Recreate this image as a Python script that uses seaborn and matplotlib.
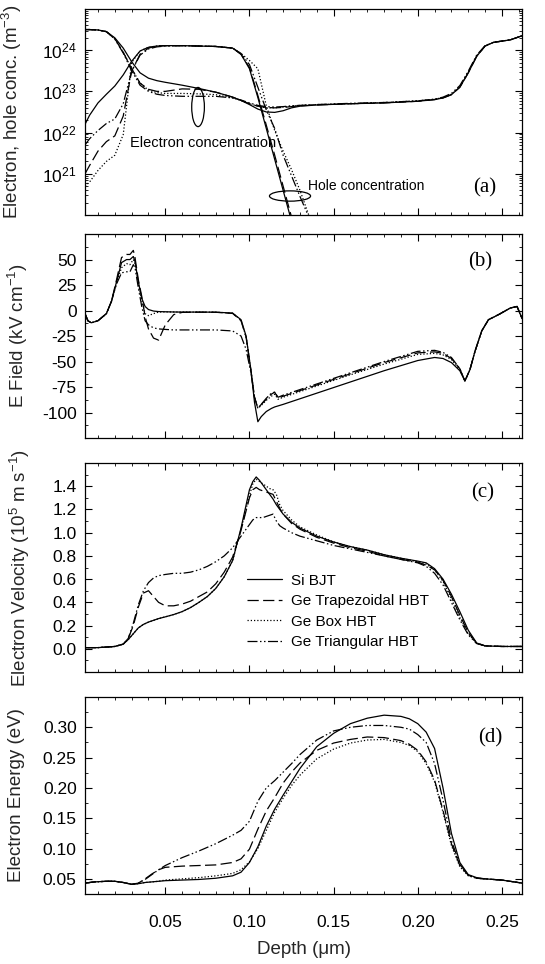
import numpy as np
import seaborn as sns
import matplotlib.pyplot as plt
from matplotlib.patches import Ellipse
from matplotlib.ticker import MultipleLocator, LogLocator, NullFormatter, FormatStrFormatter

sns.set_style('ticks')
plt.rcParams['font.family'] = ['Liberation Sans', 'DejaVu Sans']
plt.rcParams.update({
    'mathtext.default': 'regular',
    'axes.unicode_minus': False,
    'axes.edgecolor': 'black',
    'axes.linewidth': 0.9,
    'text.color': 'black',
    'xtick.color': 'black',
    'ytick.color': 'black',
    'xtick.direction': 'in',
    'ytick.direction': 'in',
    'xtick.top': True,
    'ytick.right': True,
    'xtick.major.size': 5,
    'ytick.major.size': 5,
    'xtick.minor.size': 2.5,
    'ytick.minor.size': 2.5,
    'xtick.major.width': 0.8,
    'ytick.major.width': 0.8,
    'xtick.labelsize': 12.5,
    'ytick.labelsize': 12.5,
})

devices = ['Si BJT', 'Ge Trapezoidal HBT', 'Ge Box HBT', 'Ge Triangular HBT']
linestyles = ['-', (0, (9, 3.5)), (0, (1, 1.6)), (0, (8, 2, 1.2, 2, 1.2, 2))]

# ---- (a) carrier concentrations, log10 of m^-3 ----
depth_a = [0.0023, 0.005, 0.01, 0.015, 0.02, 0.025, 0.03, 0.035, 0.04, 0.045,
           0.05, 0.06, 0.07, 0.08, 0.09, 0.095, 0.10, 0.105, 0.11, 0.115,
           0.12, 0.125, 0.13, 0.14, 0.16, 0.18, 0.20, 0.21, 0.215, 0.22,
           0.225, 0.23, 0.235, 0.24, 0.245, 0.25, 0.255, 0.262]
elec_si = [24.50, 24.50, 24.49, 24.45, 24.30, 24.05, 23.72, 23.45, 23.32, 23.26,
           23.22, 23.15, 23.07, 22.98, 22.86, 22.78, 22.68, 22.57, 22.50, 22.49,
           22.53, 22.60, 22.64, 22.67, 22.70, 22.72, 22.76, 22.80, 22.84, 22.92,
           23.10, 23.45, 23.85, 24.10, 24.19, 24.22, 24.25, 24.35]
elec_trap = [24.50, 24.50, 24.49, 24.45, 24.28, 23.95, 23.55, 23.20, 23.05, 23.00,
             23.00, 23.06, 23.05, 22.98, 22.86, 22.78, 22.70, 22.64, 22.61, 22.60,
             22.61, 22.63, 22.65, 22.67, 22.70, 22.72, 22.76, 22.80, 22.84, 22.92,
             23.10, 23.45, 23.85, 24.10, 24.19, 24.22, 24.25, 24.35]
elec_box = [24.50, 24.50, 24.49, 24.45, 24.28, 23.95, 23.55, 23.20, 23.03, 22.97,
            22.95, 22.95, 22.94, 22.92, 22.84, 22.78, 22.70, 22.64, 22.60, 22.60,
            22.62, 22.64, 22.66, 22.68, 22.70, 22.73, 22.77, 22.81, 22.85, 22.93,
            23.11, 23.46, 23.86, 24.10, 24.19, 24.22, 24.25, 24.35]
elec_tri = [24.50, 24.50, 24.49, 24.45, 24.27, 23.93, 23.50, 23.15, 23.00, 22.93,
            22.90, 22.88, 22.88, 22.88, 22.84, 22.79, 22.72, 22.66, 22.63, 22.62,
            22.63, 22.65, 22.66, 22.68, 22.71, 22.73, 22.77, 22.81, 22.86, 22.95,
            23.14, 23.49, 23.88, 24.11, 24.19, 24.22, 24.25, 24.35]
# holes share the first 24 depth points
hole_si = [22.20, 22.42, 22.72, 22.93, 23.13, 23.40, 23.73, 23.98, 24.07, 24.10,
           24.11, 24.11, 24.10, 24.09, 24.05, 23.90, 23.55, 22.85, 22.10, 21.35,
           20.60, 19.85, 19.10, 17.60]
hole_trap = [21.00, 21.20, 21.55, 21.78, 21.92, 22.40, 23.49, 23.90, 24.05, 24.10,
             24.11, 24.11, 24.10, 24.09, 24.05, 23.90, 23.58, 22.90, 22.18, 21.45,
             20.70, 19.95, 19.20, 17.70]
hole_box = [20.70, 20.80, 21.08, 21.30, 21.45, 21.95, 23.70, 23.98, 24.07, 24.10,
            24.11, 24.11, 24.10, 24.09, 24.05, 23.92, 23.75, 23.55, 22.65, 22.05,
            21.55, 21.10, 20.60, 19.45]
hole_tri = [21.70, 21.85, 22.05, 22.22, 22.33, 22.70, 23.49, 23.88, 24.03, 24.08,
            24.10, 24.11, 24.10, 24.09, 24.05, 23.92, 23.65, 23.10, 22.55, 22.10,
            21.45, 20.95, 20.45, 19.50]

# ---- (b) electric field, kV/cm ----
depth_b = [0.0023, 0.004, 0.006, 0.01, 0.015, 0.018, 0.021, 0.024, 0.027, 0.029,
           0.031, 0.032, 0.034, 0.036, 0.038, 0.04, 0.043, 0.046, 0.05, 0.055,
           0.06, 0.07, 0.08, 0.09, 0.095, 0.098, 0.101, 0.103, 0.105, 0.107,
           0.11, 0.113, 0.115, 0.117, 0.12, 0.14, 0.16, 0.18, 0.20, 0.21,
           0.215, 0.22, 0.225, 0.228, 0.231, 0.234, 0.238, 0.242, 0.248, 0.255,
           0.259, 0.262]
field_si = [-3, -10, -12, -10, -3, 9, 28, 47, 50, 50,
            53, 48, 28, 12, 4, 1, -0.5, -1, -1.2, -1.4,
            -1.5, -1.5, -1.6, -2.5, -9, -25, -60, -90, -109, -104,
            -99, -96, -94.5, -93.5, -92, -81, -70, -59, -49, -46,
            -47, -51, -59, -69, -58, -40, -20, -9, -4, 2.5,
            4, -8]
field_trap = [-3, -10, -12, -10, -3, 9, 30, 52, 55, 55,
              59, 52, 30, 14, -6, -18, -27, -29, -14, -4,
              -1.8, -1.6, -1.7, -2.8, -10, -26, -60, -85, -96, -92,
              -87, -82, -80, -86, -84, -73, -62, -51, -41.5, -40.5,
              -42, -47, -57, -69, -58, -40, -20, -9, -4, 2.5,
              4, -8]
field_box = [-3, -10, -12, -10, -3, 9, 27, 42, 46, 45,
             50, 46, 26, 10, -3, -5, -3, -1.5, -1.3, -1.4,
             -1.5, -1.5, -1.6, -2.6, -9.5, -26, -60, -85, -96, -93,
             -88, -84, -82, -87, -85, -74, -63, -52.5, -43, -42,
             -43.5, -48, -58, -69, -58, -40, -20, -9, -4, 2.5,
             4, -8]
field_tri = [-3, -10, -12, -10, -3, 9, 26, 37, 38, 38,
             45, 42, 22, 4, -10, -14, -17, -18, -18.5, -19,
             -19, -19, -19, -20, -25, -38, -62, -85, -96, -92,
             -86, -81, -80, -85, -83, -72, -61, -50, -40, -39,
             -41, -46, -57, -69, -58, -40, -20, -9, -4, 2.5,
             4, -8]

# ---- (c) electron velocity, 1e5 m/s ----
depth_c = [0.0023, 0.01, 0.02, 0.025, 0.028, 0.031, 0.034, 0.037, 0.04, 0.043,
           0.046, 0.05, 0.055, 0.06, 0.065, 0.07, 0.075, 0.08, 0.085, 0.09,
           0.095, 0.10, 0.102, 0.104, 0.106, 0.108, 0.11, 0.112, 0.114, 0.116,
           0.118, 0.12, 0.125, 0.13, 0.14, 0.15, 0.16, 0.17, 0.18, 0.19,
           0.20, 0.205, 0.21, 0.215, 0.22, 0.225, 0.23, 0.235, 0.24, 0.25,
           0.262]
vel_si = [0.01, 0.01, 0.02, 0.04, 0.08, 0.13, 0.18, 0.21, 0.23, 0.245,
          0.26, 0.275, 0.295, 0.32, 0.355, 0.40, 0.45, 0.52, 0.62, 0.76,
          1.04, 1.37, 1.44, 1.48, 1.45, 1.41, 1.37, 1.33, 1.29, 1.24,
          1.20, 1.16, 1.09, 1.04, 0.97, 0.92, 0.88, 0.85, 0.81, 0.78,
          0.755, 0.74, 0.69, 0.60, 0.47, 0.32, 0.16, 0.05, 0.025, 0.02,
          0.02]
vel_trap = [0.01, 0.01, 0.02, 0.04, 0.09, 0.20, 0.36, 0.48, 0.50, 0.45,
            0.40, 0.37, 0.37, 0.385, 0.41, 0.45, 0.49, 0.56, 0.66, 0.79,
            1.02, 1.30, 1.37, 1.39, 1.37, 1.36, 1.35, 1.34, 1.33, 1.27,
            1.21, 1.16, 1.08, 1.03, 0.96, 0.91, 0.87, 0.84, 0.80, 0.77,
            0.745, 0.72, 0.68, 0.59, 0.45, 0.29, 0.14, 0.05, 0.025, 0.02,
            0.02]
vel_box = [0.01, 0.01, 0.02, 0.04, 0.08, 0.13, 0.18, 0.21, 0.23, 0.245,
           0.26, 0.275, 0.295, 0.32, 0.355, 0.40, 0.45, 0.52, 0.62, 0.76,
           1.03, 1.32, 1.42, 1.46, 1.44, 1.42, 1.40, 1.38, 1.37, 1.33,
           1.24, 1.19, 1.11, 1.05, 0.98, 0.92, 0.88, 0.85, 0.81, 0.78,
           0.75, 0.73, 0.68, 0.58, 0.43, 0.27, 0.13, 0.045, 0.025, 0.02,
           0.02]
vel_tri = [0.01, 0.01, 0.02, 0.04, 0.09, 0.22, 0.38, 0.50, 0.57, 0.61,
           0.63, 0.64, 0.65, 0.65, 0.66, 0.68, 0.71, 0.75, 0.80, 0.87,
           0.97, 1.07, 1.11, 1.13, 1.13, 1.13, 1.14, 1.15, 1.16, 1.10,
           1.06, 1.04, 1.00, 0.97, 0.93, 0.89, 0.86, 0.83, 0.80, 0.77,
           0.74, 0.71, 0.65, 0.55, 0.40, 0.25, 0.12, 0.045, 0.025, 0.02,
           0.02]

# ---- (d) electron energy, eV ----
depth_d = [0.0023, 0.008, 0.015, 0.02, 0.025, 0.03, 0.034, 0.038, 0.042, 0.046,
           0.05, 0.06, 0.07, 0.08, 0.09, 0.095, 0.10, 0.105, 0.11, 0.115,
           0.12, 0.125, 0.13, 0.14, 0.15, 0.16, 0.17, 0.18, 0.19, 0.195,
           0.20, 0.205, 0.21, 0.215, 0.22, 0.225, 0.23, 0.235, 0.24, 0.25,
           0.262]
en_si = [0.043, 0.045, 0.046, 0.046, 0.044, 0.041, 0.042, 0.044, 0.045, 0.046,
         0.047, 0.048, 0.049, 0.051, 0.055, 0.061, 0.077, 0.103, 0.137, 0.165,
         0.188, 0.210, 0.232, 0.268, 0.290, 0.306, 0.315, 0.320, 0.318, 0.314,
         0.306, 0.292, 0.265, 0.200, 0.125, 0.077, 0.057, 0.052, 0.050, 0.048,
         0.043]
en_trap = [0.043, 0.045, 0.046, 0.046, 0.044, 0.041, 0.043, 0.050, 0.058, 0.065,
           0.069, 0.071, 0.072, 0.073, 0.077, 0.083, 0.099, 0.132, 0.162, 0.184,
           0.208, 0.226, 0.241, 0.262, 0.274, 0.280, 0.284, 0.283, 0.278, 0.272,
           0.262, 0.243, 0.213, 0.163, 0.108, 0.072, 0.056, 0.051, 0.050, 0.048,
           0.043]
en_box = [0.043, 0.045, 0.046, 0.046, 0.044, 0.041, 0.042, 0.044, 0.045, 0.046,
          0.048, 0.050, 0.052, 0.055, 0.059, 0.065, 0.078, 0.100, 0.130, 0.160,
          0.183, 0.204, 0.221, 0.248, 0.264, 0.274, 0.279, 0.280, 0.275, 0.270,
          0.260, 0.240, 0.210, 0.160, 0.105, 0.070, 0.055, 0.051, 0.050, 0.048,
          0.043]
en_tri = [0.043, 0.045, 0.046, 0.046, 0.044, 0.041, 0.043, 0.049, 0.057, 0.065,
          0.072, 0.085, 0.096, 0.108, 0.122, 0.130, 0.145, 0.178, 0.200, 0.212,
          0.226, 0.240, 0.255, 0.279, 0.294, 0.300, 0.303, 0.303, 0.300, 0.297,
          0.288, 0.275, 0.240, 0.180, 0.113, 0.074, 0.056, 0.051, 0.050, 0.048,
          0.043]


def draw(ax, x, y, i, label=None):
    sns.lineplot(x=x, y=y, ax=ax, color='black', lw=0.9, linestyle=linestyles[i],
                 label=label, legend=False, estimator=None)


fig = plt.figure(figsize=(5.45, 9.64), dpi=100)
left, width = 0.156, 0.802
ax_a = fig.add_axes([left, 0.777, width, 0.2137])
ax_b = fig.add_axes([left, 0.5456, width, 0.2116])
ax_c = fig.add_axes([left, 0.3029, width, 0.2168])
ax_d = fig.add_axes([left, 0.0726, width, 0.2044])

# (a)
ax_a.set_yscale('log')
elec = [elec_si, elec_trap, elec_box, elec_tri]
holes = [hole_si, hole_trap, hole_box, hole_tri]
for i in range(4):
    draw(ax_a, depth_a, 10 ** np.array(elec[i]), i)
    draw(ax_a, depth_a[:len(holes[i])], 10 ** np.array(holes[i]), i)
ax_a.set_ylim(1e20, 1e25)
ax_a.set_yticks([1e21, 1e22, 1e23, 1e24])
ax_a.yaxis.set_minor_locator(LogLocator(base=10, subs=np.arange(2, 10), numticks=20))
ax_a.yaxis.set_minor_formatter(NullFormatter())
ax_a.set_ylabel('Electron, hole conc. (m$^{-3}$)', fontsize=13.5)
ax_a.text(0.029, 10 ** 21.75, 'Electron concentration', fontsize=10.5, va='center')
ax_a.text(0.135, 10 ** 20.7, 'Hole concentration', fontsize=10, va='center')
ax_a.add_patch(Ellipse((0.2586, 0.524), 0.029, 0.19, transform=ax_a.transAxes,
                       fill=False, lw=0.9, ec='black'))
ax_a.add_patch(Ellipse((0.469, 0.092), 0.094, 0.05, transform=ax_a.transAxes,
                       fill=False, lw=0.9, ec='black'))

# (b)
for i, f in enumerate([field_si, field_trap, field_box, field_tri]):
    draw(ax_b, depth_b, f, i)
ax_b.set_ylim(-125, 75)
ax_b.yaxis.set_minor_locator(MultipleLocator(12.5))
ax_b.set_yticks([50, 25, 0, -25, -50, -75, -100])
ax_b.set_ylabel('E Field (kV cm$^{-1}$)', fontsize=13.5)

# (c)
for i, v in enumerate([vel_si, vel_trap, vel_box, vel_tri]):
    draw(ax_c, depth_c, v, i, label=devices[i])
ax_c.set_ylim(-0.2, 1.6)
ax_c.set_yticks([0.0, 0.2, 0.4, 0.6, 0.8, 1.0, 1.2, 1.4])
ax_c.yaxis.set_minor_locator(MultipleLocator(0.1))
ax_c.yaxis.set_major_formatter(FormatStrFormatter('%.1f'))
ax_c.set_ylabel('Electron Velocity (10$^5$ m s$^{-1}$)', fontsize=13.5)
h, l = ax_c.get_legend_handles_labels()
ax_c.legend(h, l, loc='upper left', bbox_to_anchor=(0.37, 0.47), frameon=False,
            fontsize=11, handlelength=2.3, labelspacing=0.42, handletextpad=0.6,
            borderaxespad=0, borderpad=0)

# (d)
for i, e in enumerate([en_si, en_trap, en_box, en_tri]):
    draw(ax_d, depth_d, e, i)
ax_d.set_ylim(0.025, 0.35)
ax_d.set_yticks([0.05, 0.10, 0.15, 0.20, 0.25, 0.30])
ax_d.yaxis.set_minor_locator(MultipleLocator(0.025))
ax_d.yaxis.set_major_formatter(FormatStrFormatter('%.2f'))
ax_d.set_ylabel('Electron Energy (eV)', fontsize=13.5)
ax_d.set_xlabel('Depth (\u03bcm)', fontsize=13.5, labelpad=8)

letters = ['(a)', '(b)', '(c)', '(d)']
letter_pos = [(0.915, 0.13), (0.905, 0.863), (0.91, 0.856), (0.927, 0.79)]
for ax, t, (px, py) in zip([ax_a, ax_b, ax_c, ax_d], letters, letter_pos):
    ax.set_xlim(0.0023, 0.262)
    ax.xaxis.set_major_locator(MultipleLocator(0.05))
    ax.xaxis.set_minor_locator(MultipleLocator(0.01))
    ax.tick_params(axis='y', which='major', pad=6)
    ax.tick_params(axis='x', which='major', pad=15)
    ax.text(px, py, t, transform=ax.transAxes, ha='center', va='center',
            fontsize=15, family='Liberation Serif')
    if ax is not ax_d:
        ax.tick_params(axis='x', labelbottom=False)
        ax.set_xlabel('')

ax_d.xaxis.set_major_formatter(FormatStrFormatter('%.2f'))
ax_a.yaxis.set_label_coords(-0.14, 0.5)
ax_b.yaxis.set_label_coords(-0.125, 0.5)
ax_c.yaxis.set_label_coords(-0.122, 0.5)
ax_d.yaxis.set_label_coords(-0.137, 0.5)

fig.savefig('out.png', dpi=100)
